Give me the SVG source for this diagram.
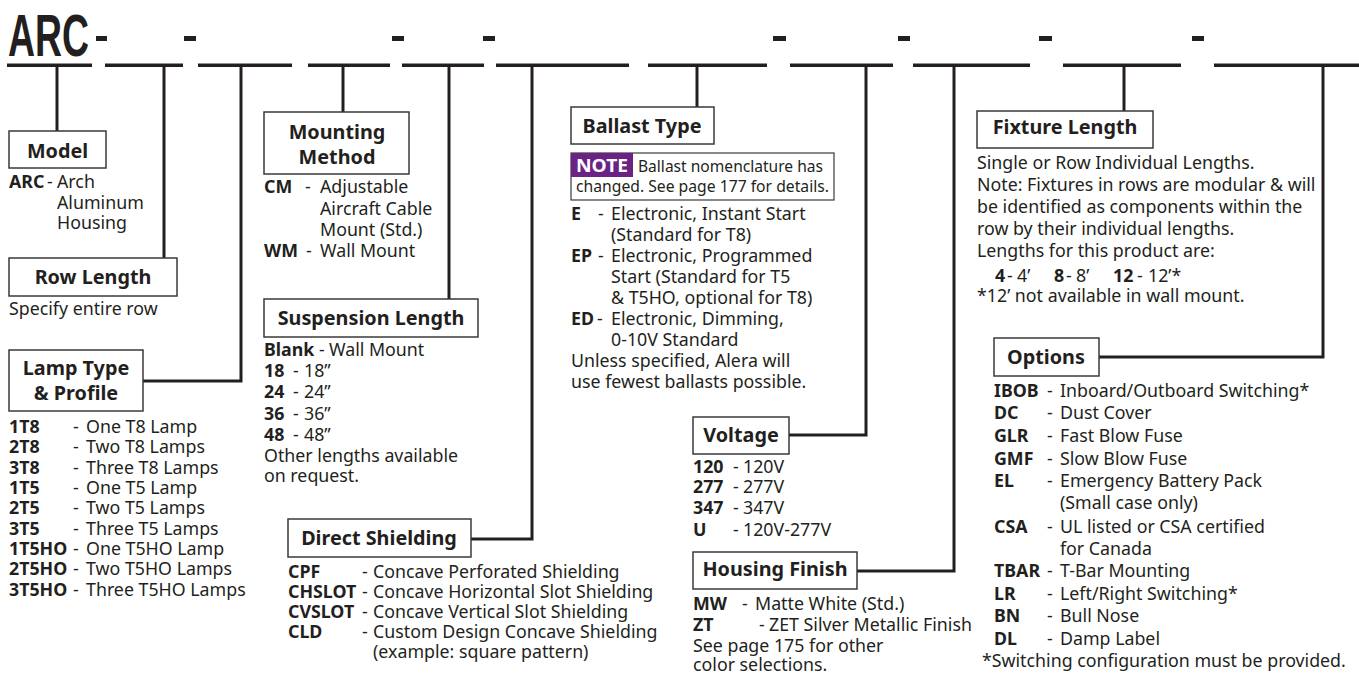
<svg xmlns="http://www.w3.org/2000/svg" width="1359" height="675" viewBox="0 0 1359 675">
<style>
.t{font-family:"Noto Sans","Open Sans",sans-serif;font-size:17.8px;fill:#231f20}
.b{font-weight:bold}
.h{font-family:"Noto Sans","Open Sans",sans-serif;font-size:19.8px;font-weight:bold;fill:#231f20;text-anchor:middle}
.box{fill:#fff;stroke:#3a3a3a;stroke-width:1.5}
.conn{fill:none;stroke:#231f20;stroke-width:3}
.bar{fill:#231f20}
</style>
<rect width="1359" height="675" fill="#fff"/>
<g id="header">
<text x="8" y="56" font-family="Liberation Sans,Arial,sans-serif" font-weight="bold" font-size="59" fill="#231f20" textLength="81" lengthAdjust="spacingAndGlyphs">ARC</text>
<rect class="bar" x="7" y="63.5" width="85" height="3.5"/>
<rect class="bar" x="105" y="63.5" width="78" height="3.5"/>
<rect class="bar" x="198" y="63.5" width="94" height="3.5"/>
<rect class="bar" x="308" y="63.5" width="82" height="3.5"/>
<rect class="bar" x="402" y="63.5" width="82" height="3.5"/>
<rect class="bar" x="496" y="63.5" width="133" height="3.5"/>
<rect class="bar" x="648" y="63.5" width="119" height="3.5"/>
<rect class="bar" x="790" y="63.5" width="103" height="3.5"/>
<rect class="bar" x="913" y="63.5" width="117" height="3.5"/>
<rect class="bar" x="1063" y="63.5" width="118" height="3.5"/>
<rect class="bar" x="1214" y="63.5" width="145" height="3.5"/>
<rect class="bar" x="96" y="36" width="11" height="5"/>
<rect class="bar" x="184" y="36" width="12" height="5"/>
<rect class="bar" x="392" y="36" width="12" height="5"/>
<rect class="bar" x="483" y="36" width="12" height="5"/>
<rect class="bar" x="773" y="36" width="13" height="5"/>
<rect class="bar" x="898" y="36" width="12" height="5"/>
<rect class="bar" x="1039" y="36" width="13" height="5"/>
<rect class="bar" x="1192" y="36" width="12" height="5"/>
</g>
<g id="connectors">
<path class="conn" d="M57,65V131"/>
<path class="conn" d="M164,65V258"/>
<path class="conn" d="M241,65V381H143"/>
<path class="conn" d="M343,65V112"/>
<path class="conn" d="M449,65V299"/>
<path class="conn" d="M532,65V539H471"/>
<path class="conn" d="M697,65V107"/>
<path class="conn" d="M866,65V435H789"/>
<path class="conn" d="M954,65V571H857"/>
<path class="conn" d="M1124,65V111"/>
<path class="conn" d="M1323,65V357H1099"/>
</g>
<g id="model">
<rect class="box" x="9" y="131" width="97" height="37"/>
<text class="h" x="57.5" y="158">Model</text>
<text class="t"><tspan class="b" x="9" y="188">ARC</tspan><tspan x="47" y="188">-</tspan><tspan x="57" y="188">Arch</tspan><tspan x="57" y="209">Aluminum</tspan><tspan x="57" y="229">Housing</tspan></text>
</g>
<g id="row-length">
<rect class="box" x="9" y="258" width="168" height="38"/>
<text class="h" x="93" y="284">Row Length</text>
<text class="t" x="9" y="315">Specify entire row</text>
</g>
<g id="lamp-type">
<rect class="box" x="9" y="350" width="134" height="61"/>
<text class="h"><tspan x="76" y="375">Lamp Type</tspan><tspan x="76" y="400">&amp; Profile</tspan></text>
<text class="t">
<tspan class="b" x="9" y="433">1T8</tspan><tspan x="73" y="433">-</tspan><tspan x="86" y="433">One T8 Lamp</tspan>
<tspan class="b" x="9" y="453">2T8</tspan><tspan x="73" y="453">-</tspan><tspan x="86" y="453">Two T8 Lamps</tspan>
<tspan class="b" x="9" y="474">3T8</tspan><tspan x="73" y="474">-</tspan><tspan x="86" y="474">Three T8 Lamps</tspan>
<tspan class="b" x="9" y="494">1T5</tspan><tspan x="73" y="494">-</tspan><tspan x="86" y="494">One T5 Lamp</tspan>
<tspan class="b" x="9" y="514">2T5</tspan><tspan x="73" y="514">-</tspan><tspan x="86" y="514">Two T5 Lamps</tspan>
<tspan class="b" x="9" y="535">3T5</tspan><tspan x="73" y="535">-</tspan><tspan x="86" y="535">Three T5 Lamps</tspan>
<tspan class="b" x="9" y="555">1T5HO</tspan><tspan x="73" y="555">-</tspan><tspan x="86" y="555">One T5HO Lamp</tspan>
<tspan class="b" x="9" y="575">2T5HO</tspan><tspan x="73" y="575">-</tspan><tspan x="86" y="575">Two T5HO Lamps</tspan>
<tspan class="b" x="9" y="596">3T5HO</tspan><tspan x="73" y="596">-</tspan><tspan x="86" y="596">Three T5HO Lamps</tspan>
</text>
</g>
<g id="mounting-method">
<rect class="box" x="264" y="112" width="145" height="62"/>
<text class="h"><tspan x="337" y="139">Mounting</tspan><tspan x="337" y="164">Method</tspan></text>
<text class="t">
<tspan class="b" x="264" y="193">CM</tspan><tspan x="305" y="193">-</tspan><tspan x="320" y="193">Adjustable</tspan>
<tspan x="320" y="215">Aircraft Cable</tspan>
<tspan x="320" y="236">Mount (Std.)</tspan>
<tspan class="b" x="264" y="257">WM</tspan><tspan x="306" y="257">-</tspan><tspan x="320" y="257">Wall Mount</tspan>
</text>
</g>
<g id="suspension-length">
<rect class="box" x="264" y="299" width="214" height="38"/>
<text class="h" x="371" y="325">Suspension Length</text>
<text class="t">
<tspan class="b" x="264" y="356">Blank</tspan><tspan x="319" y="356">-</tspan><tspan x="329" y="356">Wall Mount</tspan>
<tspan class="b" x="264" y="377">18</tspan><tspan x="293" y="377">-</tspan><tspan x="304" y="377">18”</tspan>
<tspan class="b" x="264" y="398">24</tspan><tspan x="293" y="398">-</tspan><tspan x="304" y="398">24”</tspan>
<tspan class="b" x="264" y="420">36</tspan><tspan x="293" y="420">-</tspan><tspan x="304" y="420">36”</tspan>
<tspan class="b" x="264" y="441">48</tspan><tspan x="293" y="441">-</tspan><tspan x="304" y="441">48”</tspan>
<tspan x="264" y="462">Other lengths available</tspan>
<tspan x="264" y="482">on request.</tspan>
</text>
</g>
<g id="direct-shielding">
<rect class="box" x="288" y="519" width="183" height="38"/>
<text class="h" x="379" y="545">Direct Shielding</text>
<text class="t">
<tspan class="b" x="288" y="578">CPF</tspan><tspan x="362" y="578">-</tspan><tspan x="373" y="578">Concave Perforated Shielding</tspan>
<tspan class="b" x="288" y="598">CHSLOT</tspan><tspan x="362" y="598">-</tspan><tspan x="373" y="598">Concave Horizontal Slot Shielding</tspan>
<tspan class="b" x="288" y="618">CVSLOT</tspan><tspan x="362" y="618">-</tspan><tspan x="373" y="618">Concave Vertical Slot Shielding</tspan>
<tspan class="b" x="288" y="638">CLD</tspan><tspan x="362" y="638">-</tspan><tspan x="373" y="638">Custom Design Concave Shielding</tspan>
<tspan x="373" y="658">(example: square pattern)</tspan>
</text>
</g>
<g id="ballast-type">
<rect class="box" x="571" y="107" width="143" height="37"/>
<text class="h" x="642" y="133">Ballast Type</text>
<rect x="571" y="153" width="263" height="47" fill="#fff" stroke="#3a3a3a" stroke-width="1.2"/>
<rect x="571" y="153" width="62" height="24" fill="#6a2383"/>
<text x="576" y="172" font-family="Noto Sans,Open Sans,sans-serif" font-weight="bold" font-size="17.8" fill="#fff" textLength="52" lengthAdjust="spacingAndGlyphs">NOTE</text>
<text class="t" font-size="15.5" style="font-size:15.5px"><tspan x="638" y="172" textLength="185" lengthAdjust="spacingAndGlyphs">Ballast nomenclature has</tspan><tspan x="576" y="192" textLength="253" lengthAdjust="spacingAndGlyphs">changed. See page 177 for details.</tspan></text>
<text class="t">
<tspan class="b" x="571" y="220">E</tspan><tspan x="598" y="220">-</tspan><tspan x="611" y="220">Electronic, Instant Start</tspan>
<tspan x="611" y="241">(Standard for T8)</tspan>
<tspan class="b" x="571" y="262">EP</tspan><tspan x="598" y="262">-</tspan><tspan x="611" y="262">Electronic, Programmed</tspan>
<tspan x="611" y="283">Start (Standard for T5</tspan>
<tspan x="611" y="304">&amp; T5HO, optional for T8)</tspan>
<tspan class="b" x="571" y="325">ED</tspan><tspan x="597" y="325">-</tspan><tspan x="611" y="325">Electronic, Dimming,</tspan>
<tspan x="611" y="346">0-10V Standard</tspan>
<tspan x="571" y="367">Unless specified, Alera will</tspan>
<tspan x="571" y="388">use fewest ballasts possible.</tspan>
</text>
</g>
<g id="voltage">
<rect class="box" x="693" y="417" width="96" height="37"/>
<text class="h" x="741" y="442">Voltage</text>
<text class="t">
<tspan class="b" x="693" y="473">120</tspan><tspan x="733" y="473">-</tspan><tspan x="743" y="473">120V</tspan>
<tspan class="b" x="693" y="493">277</tspan><tspan x="733" y="493">-</tspan><tspan x="743" y="493">277V</tspan>
<tspan class="b" x="693" y="514">347</tspan><tspan x="733" y="514">-</tspan><tspan x="743" y="514">347V</tspan>
<tspan class="b" x="693" y="536">U</tspan><tspan x="733" y="536">-</tspan><tspan x="743" y="536">120V-277V</tspan>
</text>
</g>
<g id="housing-finish">
<rect class="box" x="693" y="552" width="164" height="37"/>
<text class="h" x="775" y="576">Housing Finish</text>
<text class="t">
<tspan class="b" x="693" y="610">MW</tspan><tspan x="742" y="610">-</tspan><tspan x="755" y="610">Matte White (Std.)</tspan>
<tspan class="b" x="693" y="631">ZT</tspan><tspan x="759" y="631">-</tspan><tspan x="769" y="631">ZET Silver Metallic Finish</tspan>
<tspan x="693" y="652">See page 175 for other</tspan>
<tspan x="693" y="671">color selections.</tspan>
</text>
</g>
<g id="fixture-length">
<rect class="box" x="977" y="111" width="176" height="37"/>
<text class="h" x="1065" y="134">Fixture Length</text>
<text class="t">
<tspan x="977" y="169">Single or Row Individual Lengths.</tspan>
<tspan x="977" y="191">Note: Fixtures in rows are modular &amp; will</tspan>
<tspan x="977" y="213">be identified as components within the</tspan>
<tspan x="977" y="235">row by their individual lengths.</tspan>
<tspan x="977" y="257">Lengths for this product are:</tspan>
<tspan class="b" x="995" y="282">4</tspan><tspan x="1007" y="282">-</tspan><tspan x="1017" y="282">4’</tspan>
<tspan class="b" x="1054" y="282">8</tspan><tspan x="1066" y="282">-</tspan><tspan x="1076" y="282">8’</tspan>
<tspan class="b" x="1113" y="282">12</tspan><tspan x="1137" y="282">-</tspan><tspan x="1148" y="282">12’*</tspan>
<tspan x="977" y="302">*12’ not available in wall mount.</tspan>
</text>
</g>
<g id="options">
<rect class="box" x="994" y="338" width="105" height="38"/>
<text class="h" x="1046" y="364">Options</text>
<text class="t">
<tspan class="b" x="994" y="397">IBOB</tspan><tspan x="1047" y="397">-</tspan><tspan x="1060" y="397">Inboard/Outboard Switching*</tspan>
<tspan class="b" x="994" y="419">DC</tspan><tspan x="1047" y="419">-</tspan><tspan x="1060" y="419">Dust Cover</tspan>
<tspan class="b" x="994" y="442">GLR</tspan><tspan x="1047" y="442">-</tspan><tspan x="1060" y="442">Fast Blow Fuse</tspan>
<tspan class="b" x="994" y="465">GMF</tspan><tspan x="1047" y="465">-</tspan><tspan x="1060" y="465">Slow Blow Fuse</tspan>
<tspan class="b" x="994" y="487">EL</tspan><tspan x="1047" y="487">-</tspan><tspan x="1060" y="487">Emergency Battery Pack</tspan>
<tspan x="1060" y="509">(Small case only)</tspan>
<tspan class="b" x="994" y="533">CSA</tspan><tspan x="1047" y="533">-</tspan><tspan x="1060" y="533">UL listed or CSA certified</tspan>
<tspan x="1060" y="555">for Canada</tspan>
<tspan class="b" x="994" y="577">TBAR</tspan><tspan x="1047" y="577">-</tspan><tspan x="1060" y="577">T-Bar Mounting</tspan>
<tspan class="b" x="994" y="600">LR</tspan><tspan x="1047" y="600">-</tspan><tspan x="1060" y="600">Left/Right Switching*</tspan>
<tspan class="b" x="994" y="622">BN</tspan><tspan x="1047" y="622">-</tspan><tspan x="1060" y="622">Bull Nose</tspan>
<tspan class="b" x="994" y="645">DL</tspan><tspan x="1047" y="645">-</tspan><tspan x="1060" y="645">Damp Label</tspan>
<tspan x="982" y="667">*Switching configuration must be provided.</tspan>
</text>
</g>
</svg>
